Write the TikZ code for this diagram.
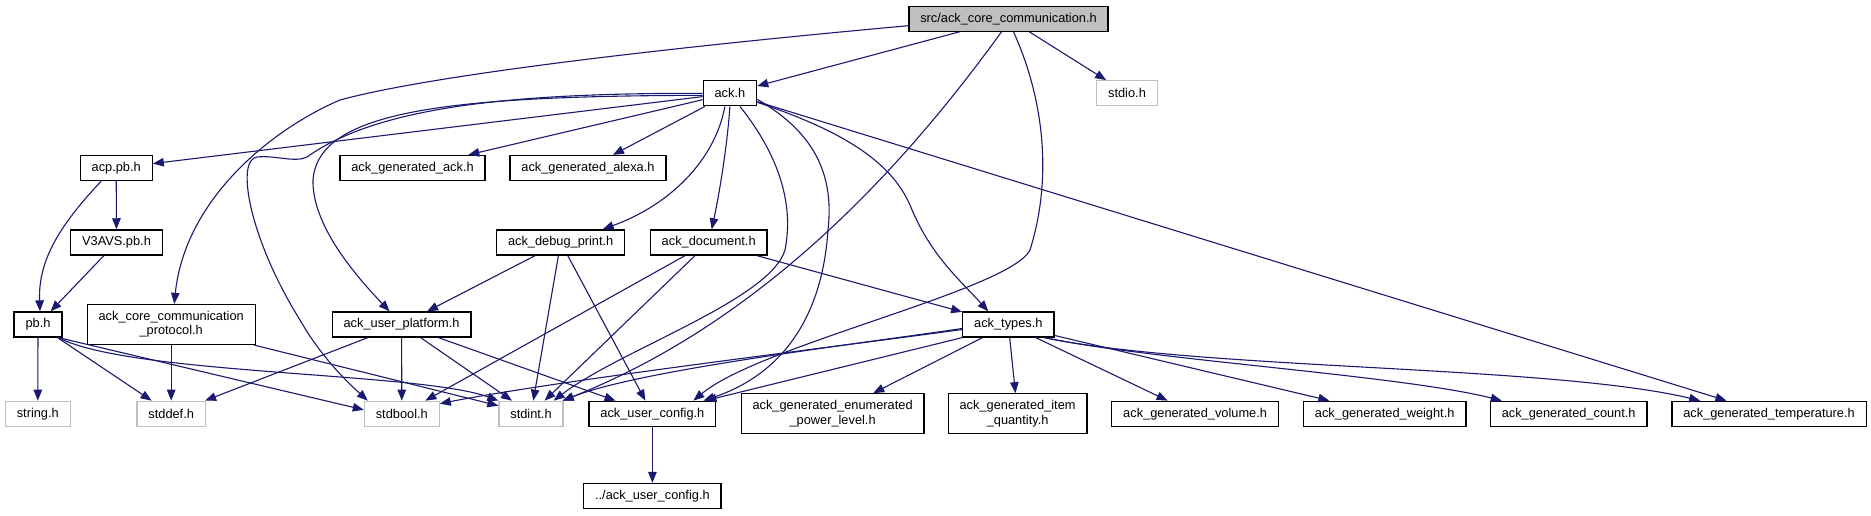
\documentclass[tikz,border=0pt]{standalone}
\usepackage{fontspec}
\newfontfamily\dotfont{Liberation Sans}
\usetikzlibrary{arrows.meta}
\definecolor{edgeblue}{HTML}{191970}
\definecolor{grey75}{HTML}{BFBFBF}

\begin{document}
\begin{tikzpicture}[x=1pt, y=-1pt,
    fnode/.style={draw=black, fill=white, line width=1.3pt,
      font=\dotfont\fontsize{12.8}{14.3}\selectfont, align=center,
      inner xsep=11.4pt, inner ysep=0pt, minimum height=25pt},
    sysnode/.style={fnode, draw=grey75},
    rootnode/.style={fnode, fill=grey75},
    tall/.style={minimum height=40pt},
    dep/.style={draw=edgeblue, line width=1.1pt, -{Triangle[length=11pt,width=8.5pt]}},
  ]
    %% rows (y grows downwards)
    \def\yA{18.7}
    \def\yB{93.3}
    \def\yC{168}
    \def\yD{242.4}
    \def\yE{324.5}
    \def\yF{413.8}
    \def\yG{496}

    \useasboundingbox[fill=white] (0,0) rectangle (1871,515);

    %% ============================================================
    %% files
    %% ============================================================
    \node[rootnode] (root) at (1008.5,\yA) {src/ack\_core\_communication.h};

    \node[fnode]   (ackh)  at (729.9,\yB) {ack.h};
    \node[sysnode] (stdio) at (1127,\yB)  {stdio.h};

    \node[fnode] (acppb)    at (116.2,\yC) {acp.pb.h};
    \node[fnode] (genack)   at (412.5,\yC) {ack\_generated\_ack.h};
    \node[fnode] (genalexa) at (588,\yC)   {ack\_generated\_alexa.h};

    \node[fnode] (v3avs)    at (116.5,\yD) {V3AVS.pb.h};
    \node[fnode] (dbgprint) at (560.7,\yD) {ack\_debug\_print.h};
    \node[fnode] (document) at (708.7,\yD) {ack\_document.h};

    \node[fnode]       (pbh)      at (38,\yE)     {pb.h};
    \node[fnode, tall] (protocol) at (171.2,\yE)  {ack\_core\_communication\\\_protocol.h};
    \node[fnode]       (usrplat)  at (401.6,\yE)  {ack\_user\_platform.h};
    \node[fnode]       (types)    at (1008.3,\yE) {ack\_types.h};

    \node[sysnode] (string)  at (37.8,\yF)  {string.h};
    \node[sysnode] (stddef)  at (171.2,\yF) {stddef.h};
    \node[sysnode] (stdbool) at (401.8,\yF) {stdbool.h};
    \node[sysnode] (stdint)  at (531,\yF)   {stdint.h};
    \node[fnode]   (usrcfg)  at (652.4,\yF) {ack\_user\_config.h};
    \node[fnode, tall] (enumpwr) at (832.6,\yF)  {ack\_generated\_enumerated\\\_power\_level.h};
    \node[fnode, tall] (itemqty) at (1017.6,\yF) {ack\_generated\_item\\\_quantity.h};
    \node[fnode] (volume) at (1195.1,\yF) {ack\_generated\_volume.h};
    \node[fnode] (weight) at (1384.7,\yF) {ack\_generated\_weight.h};
    \node[fnode] (count)  at (1568.7,\yF) {ack\_generated\_count.h};
    \node[fnode] (temp)   at (1769,\yF)   {ack\_generated\_temperature.h};

    \node[fnode] (extcfg) at (652.4,\yG) {../ack\_user\_config.h};

    %% ============================================================
    %% includes of the root file
    %% ============================================================
    \draw[dep] (root) -- (ackh);
    \draw[dep] (root) -- (stdio);
    \draw[dep] ([yshift=-7pt]root.west) .. controls (750,40) and (450,70) .. (340,100)
      .. controls (270,130) and (185,200) .. ([xshift=3pt]protocol.north);
    \draw[dep] ([xshift=-7pt]root.south) .. controls (880,200) and (740,330)
      .. ([xshift=-1pt]stdint.north east);
    \draw[dep] ([xshift=5pt]root.south) .. controls (1040,90) and (1055,170) .. (1030,250)
      .. controls (1010,290) and (760,345) .. ([xshift=41pt]usrcfg.north);

    %% ============================================================
    %% includes of ack.h
    %% ============================================================
    \draw[dep] (ackh) -- (acppb);
    \draw[dep] (ackh) -- (genack);
    \draw[dep] (ackh) -- (genalexa);
    \draw[dep] (ackh) -- (temp);
    \draw[dep] (ackh.west) .. controls (520,93) and (380,105) .. (307,157)
      .. controls (295,163) and (275,155) .. (257,157)
      .. controls (235,160) and (250,240) .. (300,320)
      .. controls (320,355) and (345,380) .. ([xshift=-34pt]stdbool.north);
    \draw[dep] ([yshift=-2pt]ackh.west) .. controls (450,96) and (318,110) .. (313,180)
      .. controls (312,225) and (355,275) .. ([xshift=-12pt]usrplat.north);
    \draw[dep] ([xshift=-5pt]ackh.south) .. controls (715,160) and (670,205)
      .. ([xshift=42pt]dbgprint.north);
    \draw[dep] (ackh.south) .. controls (727,150) and (718,200) .. ([xshift=3pt]document.north);
    \draw[dep] ([xshift=10pt]ackh.south) .. controls (775,150) and (795,200) .. (785,250)
      .. controls (770,300) and (620,350) .. ([xshift=-10pt]stdint.north east);
    \draw[dep] ([yshift=-6pt]ackh.east) .. controls (810,130) and (835,170) .. (828,230)
      .. controls (822,320) and (780,375) .. ([xshift=51pt]usrcfg.north);
    \draw[dep] ([yshift=-9pt]ackh.east) .. controls (840,130) and (890,160) .. (910,205)
      .. controls (930,255) and (960,280) .. ([xshift=-20pt]types.north);

    %% ============================================================
    %% left part: protobuf headers
    %% ============================================================
    \draw[dep] (acppb) -- (v3avs);
    \draw[dep] ([xshift=-15pt]acppb.south) .. controls (60,225) and (38,260)
      .. ([xshift=2pt]pbh.north);
    \draw[dep] (v3avs) -- (pbh);
    \draw[dep] (pbh) -- (string);
    \draw[dep] (pbh) -- (stddef);
    \draw[dep] ([xshift=-4pt]pbh.south east) -- ([yshift=4pt]stdbool.west);
    \draw[dep] ([xshift=-4pt]pbh.south east) .. controls (130,375) and (420,372)
      .. (stdint.north west);
    \draw[dep] (protocol) -- (stddef);
    \draw[dep] (protocol) -- (stdint);

    %% ============================================================
    %% platform, debug print, document
    %% ============================================================
    \draw[dep] (usrplat) -- (stddef);
    \draw[dep] (usrplat) -- (stdbool);
    \draw[dep] (usrplat) -- (stdint);
    \draw[dep] (usrplat) -- (usrcfg);
    \draw[dep] (dbgprint) -- (usrplat);
    \draw[dep] (dbgprint) -- (stdint);
    \draw[dep] (dbgprint) -- (usrcfg);
    \draw[dep] (document) -- (stdbool);
    \draw[dep] (document) -- (stdint);
    \draw[dep] (document) -- (types);
    \draw[dep] (usrcfg) -- (extcfg);

    %% ============================================================
    %% includes of ack_types.h
    %% ============================================================
    \draw[dep] ([yshift=-5pt]types.west) .. controls (850,345) and (560,380)
      .. ([yshift=-3pt]stdbool.north east);
    \draw[dep] ([yshift=-4pt]types.west) .. controls (850,345) and (640,370)
      .. ([xshift=-1pt]stdint.north east);
    \draw[dep] (types.south west) -- ([xshift=53pt]usrcfg.north);
    \draw[dep] (types) -- (enumpwr);
    \draw[dep] (types) -- (itemqty);
    \draw[dep] (types) -- (volume);
    \draw[dep] (types) -- (weight);
    \draw[dep] ([xshift=-10pt]types.south east) .. controls (1150,360) and (1400,375)
      .. ([xshift=12pt]count.north west);
    \draw[dep] ([xshift=-10pt]types.south east) .. controls (1200,370) and (1550,365)
      .. ([xshift=29pt]temp.north west);

  \end{tikzpicture}
\end{document}
